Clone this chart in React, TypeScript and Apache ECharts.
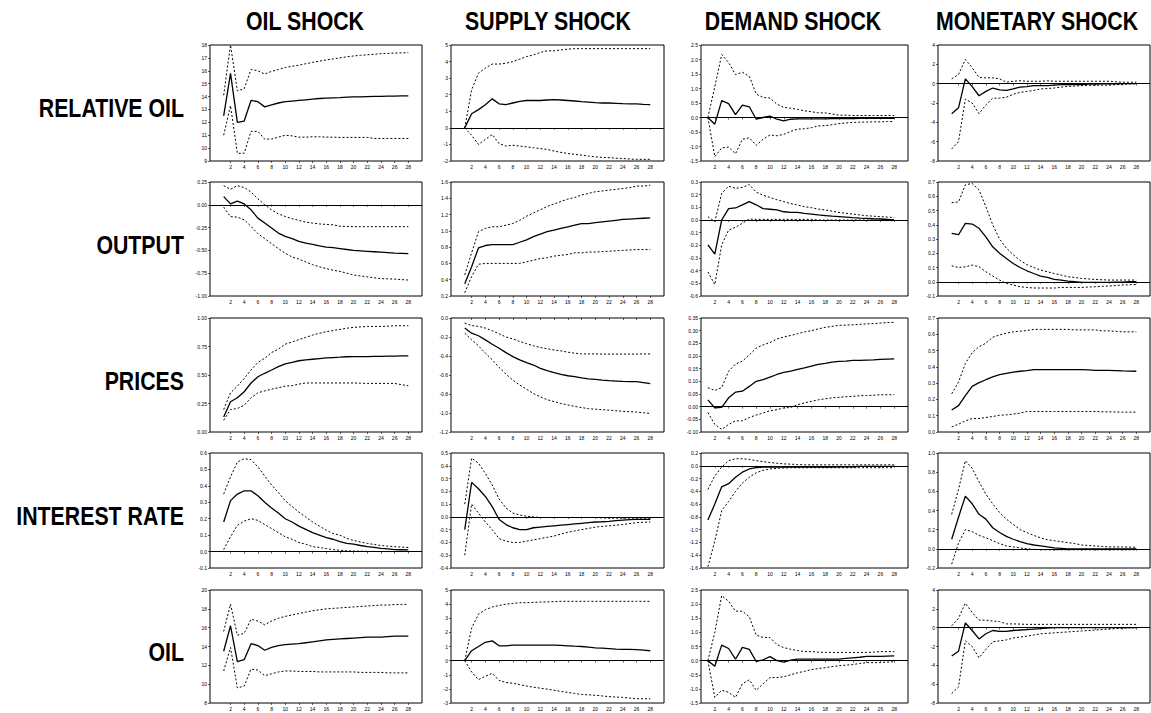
import React, { useEffect, useRef } from 'react';
import * as echarts from 'echarts';

const COLUMN_TITLES = ['OIL SHOCK', 'SUPPLY SHOCK', 'DEMAND SHOCK', 'MONETARY SHOCK'];
const ROW_TITLES = ['RELATIVE OIL', 'OUTPUT', 'PRICES', 'INTEREST RATE', 'OIL'];
const PERIODS = [1, 2, 3, 4, 5, 6, 7, 8, 9, 10, 11, 12, 13, 14, 15, 16, 17, 18, 19, 20, 21, 22, 23, 24, 25, 26, 27, 28];
const X_TICK_LABELS = [2, 4, 6, 8, 10, 12, 14, 16, 18, 20, 22, 24, 26, 28];
const X_FIRST = [-1, -1, 0, -1];
const X_LAST = 30;

// [min, max, step, decimals] per panel (row x column)
const Y_AXES = [
  [[9, 18, 1, 0], [-2, 5, 1, 0], [-1.5, 2.5, 0.5, 1], [-8, 4, 2, 0]],
  [[-1, 0.25, 0.25, 2], [0.2, 1.6, 0.2, 1], [-0.6, 0.3, 0.1, 1], [-0.1, 0.7, 0.1, 1]],
  [[0, 1, 0.25, 2], [-1.2, 0, 0.2, 1], [-0.1, 0.35, 0.05, 2], [0, 0.7, 0.1, 1]],
  [[-0.1, 0.6, 0.1, 1], [-0.4, 0.5, 0.1, 1], [-1.6, 0.2, 0.2, 1], [-0.2, 1.0, 0.2, 1]],
  [[8, 20, 2, 0], [-3, 5, 1, 0], [-1.5, 2.5, 0.5, 1], [-8, 4, 2, 0]],
];

// ---- RELATIVE OIL ----
const relOilOil = [12.5, 15.8, 12.0, 12.1, 13.7, 13.6, 13.2, 13.35, 13.5, 13.6, 13.65, 13.7, 13.75, 13.8, 13.85, 13.88, 13.9, 13.92, 13.95, 13.97, 13.98, 14.0, 14.01, 14.02, 14.03, 14.04, 14.05, 14.05];
const relOilOilUp = [14.1, 18.0, 14.45, 14.6, 16.1, 16.0, 15.75, 15.95, 16.1, 16.25, 16.35, 16.43, 16.55, 16.65, 16.75, 16.84, 16.92, 17.0, 17.08, 17.15, 17.2, 17.24, 17.28, 17.33, 17.35, 17.37, 17.39, 17.4];
const relOilOilLo = [11.0, 13.3, 9.6, 9.6, 11.3, 11.3, 10.7, 10.7, 10.85, 11.0, 10.95, 10.85, 10.85, 10.88, 10.88, 10.85, 10.85, 10.83, 10.83, 10.83, 10.83, 10.83, 10.75, 10.75, 10.75, 10.75, 10.75, 10.75];

const relOilSup = [0, 0.85, 1.1, 1.4, 1.75, 1.45, 1.4, 1.5, 1.6, 1.65, 1.65, 1.65, 1.68, 1.7, 1.68, 1.65, 1.62, 1.58, 1.55, 1.52, 1.5, 1.5, 1.48, 1.46, 1.45, 1.45, 1.42, 1.4];
const relOilSupUp = [0, 2.3, 3.3, 3.6, 3.85, 3.85, 3.9, 4.0, 4.15, 4.3, 4.4, 4.55, 4.65, 4.65, 4.7, 4.75, 4.78, 4.78, 4.78, 4.78, 4.78, 4.78, 4.78, 4.78, 4.78, 4.78, 4.78, 4.78];
const relOilSupLo = [0, -0.45, -1.0, -0.7, -0.4, -0.95, -1.1, -1.05, -1.1, -1.15, -1.2, -1.25, -1.3, -1.4, -1.48, -1.55, -1.6, -1.65, -1.7, -1.75, -1.78, -1.8, -1.83, -1.85, -1.88, -1.9, -1.9, -1.9];

const relOilDem = [0, -0.23, 0.58, 0.48, 0.1, 0.43, 0.37, -0.06, 0, 0.05, -0.06, -0.12, -0.06, -0.05, -0.05, -0.05, -0.05, -0.05, -0.04, -0.04, -0.04, -0.04, -0.03, -0.03, -0.03, -0.03, -0.03, -0.03];
const relOilDemUp = [0, 1.06, 2.17, 1.9, 1.48, 1.56, 1.42, 0.81, 0.69, 0.67, 0.46, 0.35, 0.32, 0.28, 0.23, 0.2, 0.16, 0.16, 0.12, 0.08, 0.08, 0.07, 0.07, 0.07, 0.07, 0.07, 0.07, 0.07];
const relOilDemLo = [0, -1.35, -1.05, -1.02, -1.25, -0.75, -0.7, -0.96, -0.75, -0.6, -0.63, -0.58, -0.48, -0.4, -0.39, -0.35, -0.29, -0.28, -0.25, -0.21, -0.19, -0.17, -0.16, -0.16, -0.15, -0.15, -0.14, -0.14];

const relOilMon = [-3.1, -2.5, 0.5, -0.3, -1.25, -0.8, -0.45, -0.65, -0.7, -0.55, -0.35, -0.3, -0.2, -0.2, -0.2, -0.15, -0.1, -0.1, -0.1, -0.1, -0.05, -0.05, -0.03, -0.02, -0.02, 0, 0, 0];
const relOilMonUp = [0.5, 0.95, 2.5, 1.65, 0.65, 0.6, 0.6, 0.5, 0.15, 0.25, 0.3, 0.25, 0.25, 0.25, 0.3, 0.25, 0.25, 0.25, 0.25, 0.25, 0.25, 0.25, 0.25, 0.25, 0.2, 0.15, 0.15, 0.15];
const relOilMonLo = [-6.75, -6.0, -1.6, -2.0, -3.1, -2.2, -1.5, -1.5, -1.4, -1.1, -0.9, -0.8, -0.7, -0.55, -0.5, -0.45, -0.35, -0.28, -0.25, -0.2, -0.18, -0.17, -0.16, -0.15, -0.1, -0.07, -0.03, 0];

// ---- OUTPUT ----
const outOil = [0.09, 0.01, 0.04, 0.01, -0.055, -0.146, -0.2, -0.255, -0.31, -0.347, -0.37, -0.4, -0.42, -0.434, -0.45, -0.463, -0.47, -0.48, -0.49, -0.5, -0.505, -0.51, -0.515, -0.52, -0.525, -0.53, -0.532, -0.535];
const outOilUp = [0.21, 0.17, 0.21, 0.19, 0.14, 0.066, 0, -0.055, -0.1, -0.128, -0.153, -0.17, -0.19, -0.2, -0.21, -0.215, -0.22, -0.235, -0.238, -0.24, -0.24, -0.24, -0.24, -0.24, -0.24, -0.24, -0.24, -0.24];
const outOilLo = [-0.025, -0.13, -0.135, -0.164, -0.237, -0.317, -0.37, -0.427, -0.48, -0.53, -0.573, -0.595, -0.627, -0.656, -0.68, -0.7, -0.717, -0.73, -0.75, -0.77, -0.78, -0.79, -0.8, -0.81, -0.812, -0.815, -0.82, -0.825];

const outSup = [0.35, 0.56, 0.79, 0.82, 0.83, 0.83, 0.83, 0.83, 0.86, 0.89, 0.93, 0.96, 0.99, 1.01, 1.03, 1.05, 1.07, 1.09, 1.09, 1.1, 1.11, 1.12, 1.13, 1.14, 1.145, 1.15, 1.155, 1.16];
const outSupUp = [0.46, 0.73, 0.99, 1.03, 1.05, 1.05, 1.07, 1.09, 1.13, 1.18, 1.22, 1.26, 1.3, 1.33, 1.36, 1.39, 1.41, 1.44, 1.46, 1.48, 1.49, 1.5, 1.51, 1.52, 1.53, 1.55, 1.55, 1.56];
const outSupLo = [0.24, 0.44, 0.59, 0.6, 0.6, 0.6, 0.6, 0.6, 0.6, 0.62, 0.64, 0.66, 0.67, 0.69, 0.7, 0.71, 0.73, 0.73, 0.74, 0.74, 0.745, 0.75, 0.755, 0.76, 0.765, 0.77, 0.77, 0.77];

const outDem = [-0.196, -0.27, 0, 0.09, 0.095, 0.12, 0.145, 0.12, 0.09, 0.085, 0.08, 0.065, 0.06, 0.06, 0.052, 0.047, 0.04, 0.035, 0.03, 0.026, 0.022, 0.018, 0.015, 0.013, 0.01, 0.008, 0.004, 0];
const outDemUp = [0.026, -0.013, 0.21, 0.267, 0.25, 0.257, 0.28, 0.22, 0.196, 0.178, 0.16, 0.145, 0.13, 0.118, 0.105, 0.097, 0.086, 0.079, 0.07, 0.06, 0.053, 0.047, 0.04, 0.034, 0.03, 0.026, 0.023, 0.02];
const outDemLo = [-0.41, -0.51, -0.196, -0.08, -0.057, -0.026, 0.008, 0.005, 0.005, 0.005, 0.005, 0.005, 0.005, 0.005, 0.005, 0.005, 0, 0, 0, 0, 0, 0, 0, 0, 0, -0.003, -0.005, -0.005];

const outMon = [0.34, 0.33, 0.41, 0.405, 0.375, 0.315, 0.245, 0.2, 0.163, 0.128, 0.1, 0.077, 0.058, 0.04, 0.03, 0.016, 0.012, 0.005, 0, -0.005, -0.005, -0.005, -0.005, -0.005, -0.003, -0.002, 0, 0];
const outMonUp = [0.555, 0.56, 0.68, 0.69, 0.645, 0.527, 0.4, 0.3, 0.235, 0.19, 0.15, 0.12, 0.1, 0.082, 0.07, 0.058, 0.047, 0.035, 0.03, 0.023, 0.02, 0.016, 0.014, 0.012, 0.012, 0.012, 0.012, 0.012];
const outMonLo = [0.112, 0.1, 0.105, 0.117, 0.105, 0.07, 0.04, 0.012, -0.012, -0.023, -0.035, -0.04, -0.044, -0.044, -0.044, -0.044, -0.04, -0.04, -0.04, -0.04, -0.037, -0.035, -0.032, -0.03, -0.027, -0.023, -0.021, -0.019];

// ---- PRICES ----
const prOil = [0.132, 0.265, 0.3, 0.353, 0.43, 0.485, 0.515, 0.544, 0.574, 0.597, 0.61, 0.625, 0.632, 0.638, 0.644, 0.65, 0.653, 0.656, 0.66, 0.662, 0.662, 0.662, 0.663, 0.664, 0.665, 0.666, 0.667, 0.668];
const prOilUp = [0.197, 0.344, 0.403, 0.47, 0.544, 0.61, 0.647, 0.697, 0.727, 0.77, 0.79, 0.81, 0.83, 0.85, 0.866, 0.88, 0.89, 0.9, 0.91, 0.918, 0.922, 0.926, 0.926, 0.926, 0.928, 0.932, 0.932, 0.932];
const prOilLo = [0.103, 0.197, 0.206, 0.235, 0.3, 0.344, 0.36, 0.376, 0.388, 0.403, 0.406, 0.42, 0.43, 0.43, 0.43, 0.43, 0.43, 0.43, 0.43, 0.43, 0.428, 0.426, 0.426, 0.426, 0.426, 0.426, 0.415, 0.406];

const prSup = [-0.106, -0.16, -0.187, -0.23, -0.276, -0.318, -0.364, -0.406, -0.44, -0.47, -0.495, -0.53, -0.555, -0.576, -0.594, -0.608, -0.618, -0.63, -0.64, -0.647, -0.654, -0.66, -0.664, -0.668, -0.669, -0.67, -0.68, -0.69];
const prSupUp = [-0.053, -0.08, -0.088, -0.106, -0.134, -0.166, -0.2, -0.22, -0.247, -0.27, -0.293, -0.31, -0.325, -0.336, -0.346, -0.36, -0.37, -0.378, -0.378, -0.378, -0.38, -0.38, -0.38, -0.38, -0.38, -0.38, -0.378, -0.378];
const prSupLo = [-0.16, -0.23, -0.293, -0.37, -0.44, -0.52, -0.59, -0.654, -0.706, -0.75, -0.795, -0.83, -0.86, -0.88, -0.9, -0.915, -0.93, -0.943, -0.954, -0.96, -0.965, -0.97, -0.976, -0.982, -0.986, -0.99, -0.998, -1.005];

const prDem = [0.027, -0.005, -0.003, 0.035, 0.057, 0.061, 0.08, 0.1, 0.107, 0.117, 0.127, 0.135, 0.14, 0.147, 0.153, 0.16, 0.167, 0.171, 0.176, 0.179, 0.18, 0.183, 0.183, 0.184, 0.185, 0.187, 0.188, 0.189];
const prDemUp = [0.075, 0.064, 0.075, 0.14, 0.168, 0.18, 0.204, 0.231, 0.244, 0.253, 0.267, 0.275, 0.281, 0.288, 0.295, 0.3, 0.307, 0.313, 0.317, 0.321, 0.322, 0.323, 0.325, 0.327, 0.328, 0.33, 0.332, 0.333];
const prDemLo = [-0.023, -0.07, -0.09, -0.07, -0.056, -0.056, -0.043, -0.033, -0.025, -0.016, -0.012, -0.005, -0.003, 0.008, 0.015, 0.021, 0.027, 0.031, 0.035, 0.037, 0.039, 0.041, 0.043, 0.044, 0.045, 0.047, 0.047, 0.047];

const prMon = [0.135, 0.162, 0.224, 0.28, 0.303, 0.321, 0.338, 0.352, 0.36, 0.368, 0.373, 0.377, 0.383, 0.383, 0.383, 0.383, 0.383, 0.383, 0.383, 0.383, 0.381, 0.379, 0.379, 0.379, 0.377, 0.375, 0.374, 0.373];
const prMonUp = [0.234, 0.307, 0.42, 0.487, 0.524, 0.545, 0.582, 0.596, 0.607, 0.615, 0.619, 0.623, 0.63, 0.63, 0.63, 0.63, 0.63, 0.63, 0.627, 0.627, 0.627, 0.627, 0.621, 0.621, 0.618, 0.615, 0.615, 0.615];
const prMonLo = [0.031, 0.048, 0.068, 0.083, 0.083, 0.089, 0.095, 0.103, 0.105, 0.11, 0.116, 0.126, 0.126, 0.126, 0.126, 0.126, 0.126, 0.126, 0.126, 0.126, 0.126, 0.126, 0.124, 0.124, 0.123, 0.122, 0.122, 0.122];

// ---- INTEREST RATE ----
const irOil = [0.18, 0.31, 0.35, 0.37, 0.37, 0.34, 0.3, 0.265, 0.235, 0.2, 0.18, 0.155, 0.135, 0.115, 0.1, 0.085, 0.075, 0.06, 0.05, 0.045, 0.037, 0.03, 0.025, 0.02, 0.016, 0.012, 0.011, 0.01];
const irOilUp = [0.35, 0.455, 0.545, 0.565, 0.56, 0.515, 0.46, 0.405, 0.36, 0.31, 0.275, 0.24, 0.21, 0.18, 0.155, 0.13, 0.11, 0.1, 0.08, 0.068, 0.058, 0.05, 0.043, 0.037, 0.033, 0.03, 0.027, 0.025];
const irOilLo = [0.012, 0.09, 0.16, 0.185, 0.2, 0.19, 0.165, 0.14, 0.115, 0.09, 0.075, 0.055, 0.045, 0.03, 0.025, 0.018, 0.012, 0.008, 0.005, 0.003, 0.002, 0.001, 0, 0, 0, 0, 0, 0];

const irSup = [-0.1, 0.27, 0.22, 0.16, 0.08, -0.02, -0.06, -0.085, -0.1, -0.1, -0.085, -0.08, -0.075, -0.07, -0.065, -0.06, -0.055, -0.05, -0.045, -0.04, -0.038, -0.035, -0.03, -0.025, -0.022, -0.02, -0.02, -0.02];
const irSupUp = [0.1, 0.46, 0.42, 0.34, 0.25, 0.14, 0.07, 0.03, 0.015, 0.005, 0, -0.005, -0.005, -0.005, -0.005, -0.005, -0.005, -0.005, -0.005, -0.005, -0.008, -0.01, -0.01, -0.01, -0.01, -0.01, -0.01, -0.01];
const irSupLo = [-0.3, 0.1, 0.03, -0.04, -0.1, -0.17, -0.19, -0.2, -0.2, -0.19, -0.18, -0.17, -0.16, -0.15, -0.135, -0.12, -0.11, -0.1, -0.09, -0.08, -0.075, -0.07, -0.065, -0.06, -0.052, -0.045, -0.042, -0.04];

const irDem = [-0.85, -0.6, -0.33, -0.28, -0.18, -0.1, -0.05, -0.03, -0.02, -0.02, -0.02, -0.02, -0.02, -0.02, -0.02, -0.02, -0.02, -0.02, -0.02, -0.015, -0.015, -0.015, -0.01, -0.01, -0.01, -0.01, -0.01, -0.01];
const irDemUp = [-0.37, -0.16, -0.02, 0.08, 0.11, 0.11, 0.1, 0.08, 0.065, 0.05, 0.04, 0.03, 0.025, 0.02, 0.015, 0.015, 0.015, 0.015, 0.015, 0.015, 0.015, 0.015, 0.015, 0.015, 0.015, 0.015, 0.015, 0.015];
const irDemLo = [-1.58, -1.18, -0.7, -0.56, -0.4, -0.27, -0.18, -0.11, -0.07, -0.05, -0.04, -0.035, -0.03, -0.03, -0.03, -0.03, -0.03, -0.03, -0.03, -0.03, -0.03, -0.03, -0.03, -0.03, -0.03, -0.03, -0.03, -0.03];

const irMon = [0.1, 0.33, 0.55, 0.47, 0.36, 0.31, 0.22, 0.17, 0.13, 0.1, 0.075, 0.055, 0.04, 0.03, 0.02, 0.01, 0.005, 0, 0, 0, 0, 0, 0, 0, 0, 0, 0, 0];
const irMonUp = [0.36, 0.62, 0.92, 0.84, 0.7, 0.57, 0.47, 0.38, 0.31, 0.255, 0.2, 0.17, 0.14, 0.115, 0.095, 0.085, 0.075, 0.065, 0.055, 0.04, 0.035, 0.03, 0.025, 0.02, 0.02, 0.02, 0.018, 0.015];
const irMonLo = [-0.16, 0.06, 0.2, 0.18, 0.14, 0.115, 0.085, 0.055, 0.03, 0.02, 0.01, 0, -0.005, -0.008, -0.01, -0.01, -0.01, -0.01, -0.01, -0.01, -0.01, -0.01, -0.01, -0.01, -0.01, -0.01, -0.01, -0.01];

// ---- OIL ----
const oilOil = [13.5, 16.2, 12.4, 12.6, 14.3, 14.1, 13.6, 13.9, 14.1, 14.2, 14.25, 14.3, 14.4, 14.5, 14.6, 14.7, 14.75, 14.8, 14.85, 14.9, 14.95, 15.0, 15.0, 15.0, 15.05, 15.1, 15.1, 15.1];
const oilOilUp = [15.6, 18.5, 15.2, 15.4, 16.9, 16.7, 16.3, 16.7, 17.0, 17.2, 17.35, 17.5, 17.65, 17.8, 17.9, 18.0, 18.05, 18.1, 18.15, 18.2, 18.25, 18.3, 18.35, 18.4, 18.4, 18.45, 18.45, 18.5];
const oilOilLo = [11.4, 13.9, 9.6, 9.8, 11.6, 11.5, 10.9, 11.1, 11.3, 11.4, 11.4, 11.35, 11.35, 11.35, 11.3, 11.3, 11.3, 11.3, 11.3, 11.3, 11.25, 11.25, 11.25, 11.25, 11.2, 11.2, 11.2, 11.2];

const oilSup = [0, 0.7, 1.0, 1.3, 1.4, 1.05, 1.05, 1.1, 1.1, 1.1, 1.1, 1.1, 1.1, 1.1, 1.08, 1.05, 1.02, 1.0, 0.95, 0.9, 0.88, 0.85, 0.82, 0.8, 0.8, 0.78, 0.75, 0.7];
const oilSupUp = [0, 2.3, 3.3, 3.6, 3.8, 3.9, 4.0, 4.05, 4.1, 4.1, 4.12, 4.15, 4.15, 4.18, 4.2, 4.2, 4.2, 4.2, 4.2, 4.2, 4.2, 4.2, 4.2, 4.2, 4.2, 4.2, 4.2, 4.2];
const oilSupLo = [0, -0.8, -1.35, -1.1, -0.9, -1.4, -1.55, -1.6, -1.7, -1.8, -1.88, -1.95, -2.02, -2.1, -2.18, -2.25, -2.32, -2.4, -2.42, -2.45, -2.5, -2.55, -2.58, -2.6, -2.65, -2.7, -2.7, -2.7];

const oilDem = [0, -0.2, 0.55, 0.43, 0.05, 0.47, 0.4, -0.03, 0.03, 0.14, 0, -0.05, 0.02, 0.05, 0.05, 0.05, 0.05, 0.05, 0.05, 0.05, 0.08, 0.1, 0.12, 0.15, 0.15, 0.15, 0.16, 0.17];
const oilDemUp = [0, 1.0, 2.3, 2.1, 1.75, 1.75, 1.55, 0.9, 0.82, 0.82, 0.57, 0.46, 0.4, 0.36, 0.32, 0.32, 0.3, 0.29, 0.29, 0.29, 0.29, 0.29, 0.29, 0.29, 0.3, 0.32, 0.32, 0.32];
const oilDemLo = [0, -1.3, -1.05, -1.12, -1.3, -0.82, -0.68, -1.05, -0.82, -0.6, -0.6, -0.57, -0.5, -0.43, -0.38, -0.32, -0.28, -0.25, -0.21, -0.18, -0.16, -0.14, -0.1, -0.07, -0.07, -0.07, -0.05, -0.04];

const oilMon = [-3.0, -2.5, 0.5, -0.3, -1.2, -0.65, -0.3, -0.4, -0.4, -0.3, -0.25, -0.2, -0.15, -0.1, -0.05, 0, 0, 0, 0, 0, 0, 0, 0, 0, 0, 0, 0, 0];
const oilMonUp = [0.2, 1.0, 2.6, 1.6, 0.8, 0.8, 0.7, 0.65, 0.4, 0.4, 0.38, 0.35, 0.35, 0.35, 0.35, 0.35, 0.35, 0.35, 0.35, 0.35, 0.35, 0.35, 0.35, 0.35, 0.35, 0.35, 0.35, 0.35];
const oilMonLo = [-7.0, -6.3, -1.4, -2.0, -3.2, -2.3, -1.5, -1.4, -1.3, -1.1, -1.0, -0.9, -0.78, -0.65, -0.6, -0.55, -0.5, -0.45, -0.4, -0.35, -0.3, -0.25, -0.2, -0.15, -0.1, -0.05, -0.02, 0];

const PANELS = [
  [[relOilOil, relOilOilUp, relOilOilLo], [relOilSup, relOilSupUp, relOilSupLo], [relOilDem, relOilDemUp, relOilDemLo], [relOilMon, relOilMonUp, relOilMonLo]],
  [[outOil, outOilUp, outOilLo], [outSup, outSupUp, outSupLo], [outDem, outDemUp, outDemLo], [outMon, outMonUp, outMonLo]],
  [[prOil, prOilUp, prOilLo], [prSup, prSupUp, prSupLo], [prDem, prDemUp, prDemLo], [prMon, prMonUp, prMonLo]],
  [[irOil, irOilUp, irOilLo], [irSup, irSupUp, irSupLo], [irDem, irDemUp, irDemLo], [irMon, irMonUp, irMonLo]],
  [[oilOil, oilOilUp, oilOilLo], [oilSup, oilSupUp, oilSupLo], [oilDem, oilDemUp, oilDemLo], [oilMon, oilMonUp, oilMonLo]],
];

// layout
const COL_LEFT = [210, 451, 701, 938];
const COL_RIGHT = [422, 664, 908, 1150];
const ROW_TOP = [45, 182, 318, 453, 590];
const ROW_BOTTOM = [161, 296, 432, 568, 703];
const TITLE_X = [305, 548, 793, 1037];
const TITLE_Y = 21;
const ROW_LABEL_X = 184;
const ROW_LABEL_Y = [108, 245, 381, 516, 652];
const NARROW = 0.82;

const BIG_FONT = "'Liberation Sans', Arial, sans-serif";
const SMALL_FONT = "'Liberation Sans', Arial, sans-serif";

function buildOption() {
  const grid: any[] = [];
  const xAxis: any[] = [];
  const yAxis: any[] = [];
  const series: any[] = [];
  const graphic: any[] = [];

  const showX = (_i: number, v: string) => X_TICK_LABELS.indexOf(Number(v)) >= 0;

  for (let r = 0; r < 5; r++) {
    for (let c = 0; c < 4; c++) {
      const idx = r * 4 + c;
      const [ymin, ymax, ystep, dec] = Y_AXES[r][c];
      grid.push({
        left: COL_LEFT[c],
        top: ROW_TOP[r],
        width: COL_RIGHT[c] - COL_LEFT[c],
        height: ROW_BOTTOM[r] - ROW_TOP[r],
        show: true,
        borderColor: '#000',
        borderWidth: 1,
        backgroundColor: 'transparent',
      });
      const cats: string[] = [];
      for (let v = X_FIRST[c]; v <= X_LAST; v++) cats.push(String(v));
      xAxis.push({
        type: 'category',
        gridIndex: idx,
        data: cats,
        boundaryGap: false,
        axisLine: { show: false },
        axisTick: { show: true, interval: showX, length: 2, lineStyle: { color: '#000', width: 0.6 } },
        axisLabel: { interval: showX, fontSize: 5, color: '#000', margin: 3, fontFamily: SMALL_FONT },
        splitLine: { show: false },
      });
      yAxis.push({
        type: 'value',
        gridIndex: idx,
        min: ymin,
        max: ymax,
        interval: ystep,
        axisLine: { show: false },
        axisTick: { show: true, length: 2, lineStyle: { color: '#000', width: 0.6 } },
        axisLabel: {
          fontSize: 5,
          color: '#000',
          margin: 3,
          fontFamily: SMALL_FONT,
          formatter: (v: number) => Number(v).toFixed(dec),
        },
        splitLine: { show: false },
      });
      const [irf, up, lo] = PANELS[r][c];
      const align = (vals: number[]) =>
        cats.map((k) => {
          const i = PERIODS.indexOf(Number(k));
          return i >= 0 ? vals[i] : null;
        });
      const hasZero = ymin < 0 && ymax > 0;
      series.push({
        type: 'line',
        xAxisIndex: idx,
        yAxisIndex: idx,
        data: align(irf),
        symbol: 'none',
        lineStyle: { color: '#000', width: 1.3 },
        z: 3,
        markLine: hasZero
          ? {
              silent: true,
              symbol: 'none',
              label: { show: false },
              lineStyle: { color: '#000', type: 'solid', width: 1 },
              data: [{ yAxis: 0 }],
            }
          : undefined,
      });
      [up, lo].forEach((band) => {
        series.push({
          type: 'line',
          xAxisIndex: idx,
          yAxisIndex: idx,
          data: align(band),
          symbol: 'none',
          lineStyle: { color: '#000', width: 1, type: [2, 2] },
          z: 2,
        });
      });
    }
  }

  COLUMN_TITLES.forEach((t, c) => {
    graphic.push({
      type: 'text',
      x: TITLE_X[c],
      y: TITLE_Y,
      scaleX: NARROW,
      style: {
        text: t,
        fill: '#000',
        font: `bold 26px ${BIG_FONT}`,
        textAlign: 'center',
        textVerticalAlign: 'middle',
      },
    });
  });
  ROW_TITLES.forEach((t, r) => {
    graphic.push({
      type: 'text',
      x: ROW_LABEL_X,
      y: ROW_LABEL_Y[r],
      scaleX: NARROW,
      style: {
        text: t,
        fill: '#000',
        font: `bold 26px ${BIG_FONT}`,
        textAlign: 'right',
        textVerticalAlign: 'middle',
      },
    });
  });

  return {
    animation: false,
    backgroundColor: '#fff',
    grid,
    xAxis,
    yAxis,
    series,
    graphic,
  };
}

export default function App() {
  const ref = useRef<HTMLDivElement>(null);
  useEffect(() => {
    if (!ref.current) return;
    const chart = echarts.init(ref.current, undefined, { renderer: 'svg' });
    chart.setOption(buildOption());
    return () => chart.dispose();
  }, []);
  return (
    <div
      ref={ref}
      style={{ position: 'fixed', left: 0, top: 0, width: 1151, height: 713, background: '#fff' }}
    />
  );
}
